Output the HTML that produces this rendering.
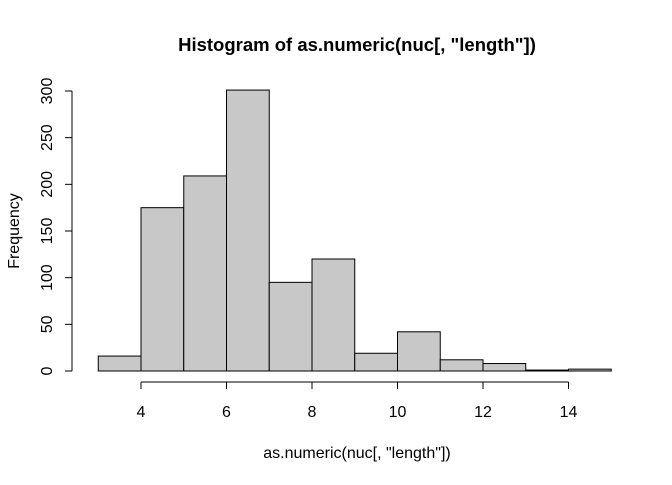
<!DOCTYPE html>
<html><head><meta charset="utf-8"><style>
body{margin:0;background:#fff}
text{font-family:"Liberation Sans",Arial,sans-serif;fill:#000}
</style></head><body>
<svg id="chart" width="672" height="480">
<text x="357" y="51" text-anchor="middle" font-size="18.5" font-weight="bold">Histogram of as.numeric(nuc[, "length"])</text>
<text x="357" y="458" text-anchor="middle" font-size="16">as.numeric(nuc[, "length"])</text>
<text transform="translate(19,231) rotate(-90)" text-anchor="middle" font-size="16">Frequency</text>
<g id="bars"></g><g id="xaxis"></g><g id="yaxis"></g>
</svg>
<script>
const binStarts=[3,4,5,6,7,8,9,10,11,12,13,14];
const counts=[16,175,209,301,95,120,19,42,12,8,1,2];
const xTicks=[4,6,8,10,12,14];
const yTicks=[0,50,100,150,200,250,300];
const NS="http://www.w3.org/2000/svg";
const xs=v=>141+(v-4)*42.75;
const ys=v=>371-v*(280/300);
function mk(t,a,p){const e=document.createElementNS(NS,t);for(const k in a)e.setAttribute(k,a[k]);p.appendChild(e);return e;}
const bars=document.getElementById('bars');
binStarts.forEach((b,i)=>{
 const r=mk('rect',{x:xs(b),y:ys(counts[i]),width:xs(b+1)-xs(b),height:ys(0)-ys(counts[i]),fill:'#c8c8c8',stroke:'#000','stroke-width':1},bars);
 
 
});
const xa=document.getElementById('xaxis');
mk('line',{x1:xs(xTicks[0]),x2:xs(xTicks[xTicks.length-1]),y1:382,y2:382,stroke:'#000'},xa);
xTicks.forEach(t=>{
 mk('line',{x1:xs(t),x2:xs(t),y1:382,y2:389,stroke:'#000'},xa);
 const tx=mk('text',{x:xs(t),y:417,'text-anchor':'middle','font-size':16},xa);tx.textContent=t;
 
 
});
const ya=document.getElementById('yaxis');
mk('line',{x1:72,x2:72,y1:ys(yTicks[0]),y2:ys(yTicks[yTicks.length-1]),stroke:'#000'},ya);
yTicks.forEach(t=>{
 mk('line',{x1:65,x2:72,y1:ys(t),y2:ys(t),stroke:'#000'},ya);
 const tx=mk('text',{transform:`translate(52,${ys(t)}) rotate(-90)`,'text-anchor':'middle','font-size':16},ya);tx.textContent=t;
 
 
});
</script>
</body></html>
